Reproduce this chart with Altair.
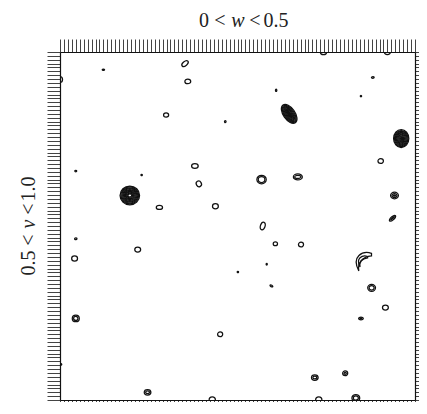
import altair as alt
import pandas as pd

# ---- contour features (data units, axes run 0..90) ----
src_x = [66.8, 83.0, 0.0, 11.0, 31.7, 32.4, 54.8, 79.3, 76.3, 26.9,
         41.9, 58.1, 86.5, 81.3, 4.0, 20.7, 34.2, 35.2, 51.1, 60.3,
         17.7, 25.2, 39.4, 84.8, 84.3, 51.4, 4.0, 54.6, 61.1, 19.7,
         3.7, 52.4, 45.1, 53.6, 79.0, 82.5, 4.0, 76.3, 40.6, 0.2,
         72.3, 64.6, 22.2, 38.6, 65.6, 75.0]
src_y = [90.0, 90.0, 82.9, 85.4, 87.0, 82.4, 80.1, 83.4, 78.6, 73.7,
         72.0, 74.0, 67.6, 61.8, 59.2, 58.2, 60.5, 55.9, 57.0, 57.7,
         52.9, 49.8, 50.1, 52.9, 47.0, 45.0, 41.7, 40.4, 40.2, 38.9,
         36.6, 35.1, 33.1, 29.5, 29.0, 23.9, 21.1, 21.1, 17.0, 9.2,
         6.9, 5.8, 2.0, 0.0, 0.0, 0.5]
src_major = [1.6, 1.5, 1.5, 0.6, 1.9, 1.5, 0.6, 0.7, 0.35, 1.3,
             0.5, 5.5, 4.6, 1.4, 0.5, 0.35, 1.7, 1.5, 2.4, 2.3,
             5.0, 1.6, 1.5, 2.0, 2.0, 2.0, 0.6, 1.1, 1.3, 1.5,
             1.5, 0.4, 0.35, 0.8, 2.0, 1.5, 1.8, 1.2, 1.3, 0.5,
             1.3, 1.7, 1.7, 1.6, 1.6, 2.0]
src_minor = [1.4, 1.3, 1.3, 0.35, 1.1, 1.2, 0.35, 0.4, 0.35, 1.1,
             0.4, 3.0, 3.9, 1.2, 0.35, 0.35, 1.2, 1.3, 2.2, 1.5,
             4.8, 1.0, 1.3, 1.7, 0.8, 1.2, 0.5, 1.0, 1.2, 1.3,
             1.3, 0.3, 0.35, 0.4, 1.8, 1.3, 1.7, 0.7, 1.2, 0.4,
             1.2, 1.4, 1.4, 1.6, 1.6, 1.8]
src_angle = [0, 0, 90, 0, 320, 0, 90, 0, 0, 0,
             90, 55, 90, 0, 0, 0, 0, 60, 0, 0,
             0, 0, 0, 0, 320, 290, 0, 0, 0, 0,
             0, 90, 0, 30, 0, 0, 0, 0, 0, 0,
             0, 0, 0, 0, 0, 0]
src_levels = [1, 1, 1, 1, 1, 1, 1, 1, 1, 1,
              1, 9, 9, 1, 1, 1, 1, 1, 2, 2,
              10, 1, 1, 3, 2, 1, 1, 1, 1, 1,
              1, 1, 1, 1, 2, 1, 2, 2, 1, 1,
              2, 2, 2, 1, 1, 2]

# crescent-shaped contour
cres_x = [76.5]
cres_y = [35.9]
cres_extent = [5.0]
cres_scales = [1.0, 0.6]

title_parts = ["0", "<", "w", "<", "0.5"]
title_italic = [False, False, True, False, False]
ylabel_parts = ["1.0", "<", "v", "<", "0.5"]
ylabel_italic = [False, False, True, False, False]
axis_ticks = list(range(0, 91))

W, H = 355, 348
PX = (W + H) / 2 / 90.0
RING_STEP = 0.45

rows = []
for x, y, ma, mi, an, lv in zip(src_x, src_y, src_major, src_minor, src_angle, src_levels):
    step = RING_STEP if lv > 3 else 0.7
    for k in range(lv):
        a = max(ma - k * step, 0.3)
        b = max(mi - k * step, 0.25)
        r = min(b / a, 1.0)
        path = f"M -1 0 A 1 {r:.3f} 0 1 1 1 0 A 1 {r:.3f} 0 1 1 -1 0 Z"
        rows.append({"x": x, "y": y, "size": (a * PX) ** 2, "angle": an, "shape": path})

cres_path = "M 1 -0.8 C 0.1 -1.1 -1.1 -0.5 -0.3 1 C -0.45 0.2 0 -0.45 1 -0.55 Z"
for x, y, e in zip(cres_x, cres_y, cres_extent):
    for s in cres_scales:
        rows.append({"x": x, "y": y, "size": (e * s * PX) ** 2, "angle": 0, "shape": cres_path})

df = pd.DataFrame(rows)


def ax(orient):
    return alt.Axis(orient=orient, values=axis_ticks, labels=False, title=None,
                    grid=False, ticks=True, tickSize=13, tickColor="#444",
                    tickWidth=1, domain=True, domainColor="#111", domainWidth=1.2)


xs = alt.Scale(domain=[0, 90], nice=False, zero=False)
ys = alt.Scale(domain=[0, 90], nice=False, zero=False)

pts = alt.Chart(df).mark_point(filled=False, color="#111", strokeWidth=1.25,
                               clip=True, opacity=1).encode(
    x=alt.X("x:Q", scale=xs, axis=ax("bottom")),
    y=alt.Y("y:Q", scale=ys, axis=ax("left")),
    size=alt.Size("size:Q", scale=None, legend=None),
    angle=alt.Angle("angle:Q", scale=None),
    shape=alt.Shape("shape:N", scale=None, legend=None),
)
pts2 = alt.Chart(df).mark_point(opacity=0, clip=True).encode(
    x=alt.X("x:Q", scale=xs, axis=ax("top")),
    y=alt.Y("y:Q", scale=ys, axis=ax("right")),
)

dummy = pd.DataFrame({"a": [0]})
texts = []
title_x = [144, 160, 178, 195, 216]
for t, it, px in zip(title_parts, title_italic, title_x):
    texts.append(alt.Chart(dummy).mark_text(
        text=t, font="Liberation Serif", fontSize=20,
        fontStyle="italic" if it else "normal", align="center",
        baseline="alphabetic", color="#222").encode(x=alt.value(px), y=alt.value(-25)))
ylab_y = [137, 157, 172, 188, 211]
for t, it, py in zip(ylabel_parts, ylabel_italic, ylab_y):
    texts.append(alt.Chart(dummy).mark_text(
        text=t, font="Liberation Serif", fontSize=20, angle=270,
        fontStyle="italic" if it else "normal", align="center",
        baseline="alphabetic", color="#222").encode(x=alt.value(-25), y=alt.value(py)))

chart = alt.layer(pts, pts2, *texts).resolve_axis(
    x="independent", y="independent"
).properties(
    width=W, height=H, autosize="none",
    padding={"left": 52, "top": 44, "right": 4, "bottom": 2},
    background="white",
).configure_view(stroke="#111")

chart.save("out.html", embed_options={"renderer": "svg", "actions": False})
